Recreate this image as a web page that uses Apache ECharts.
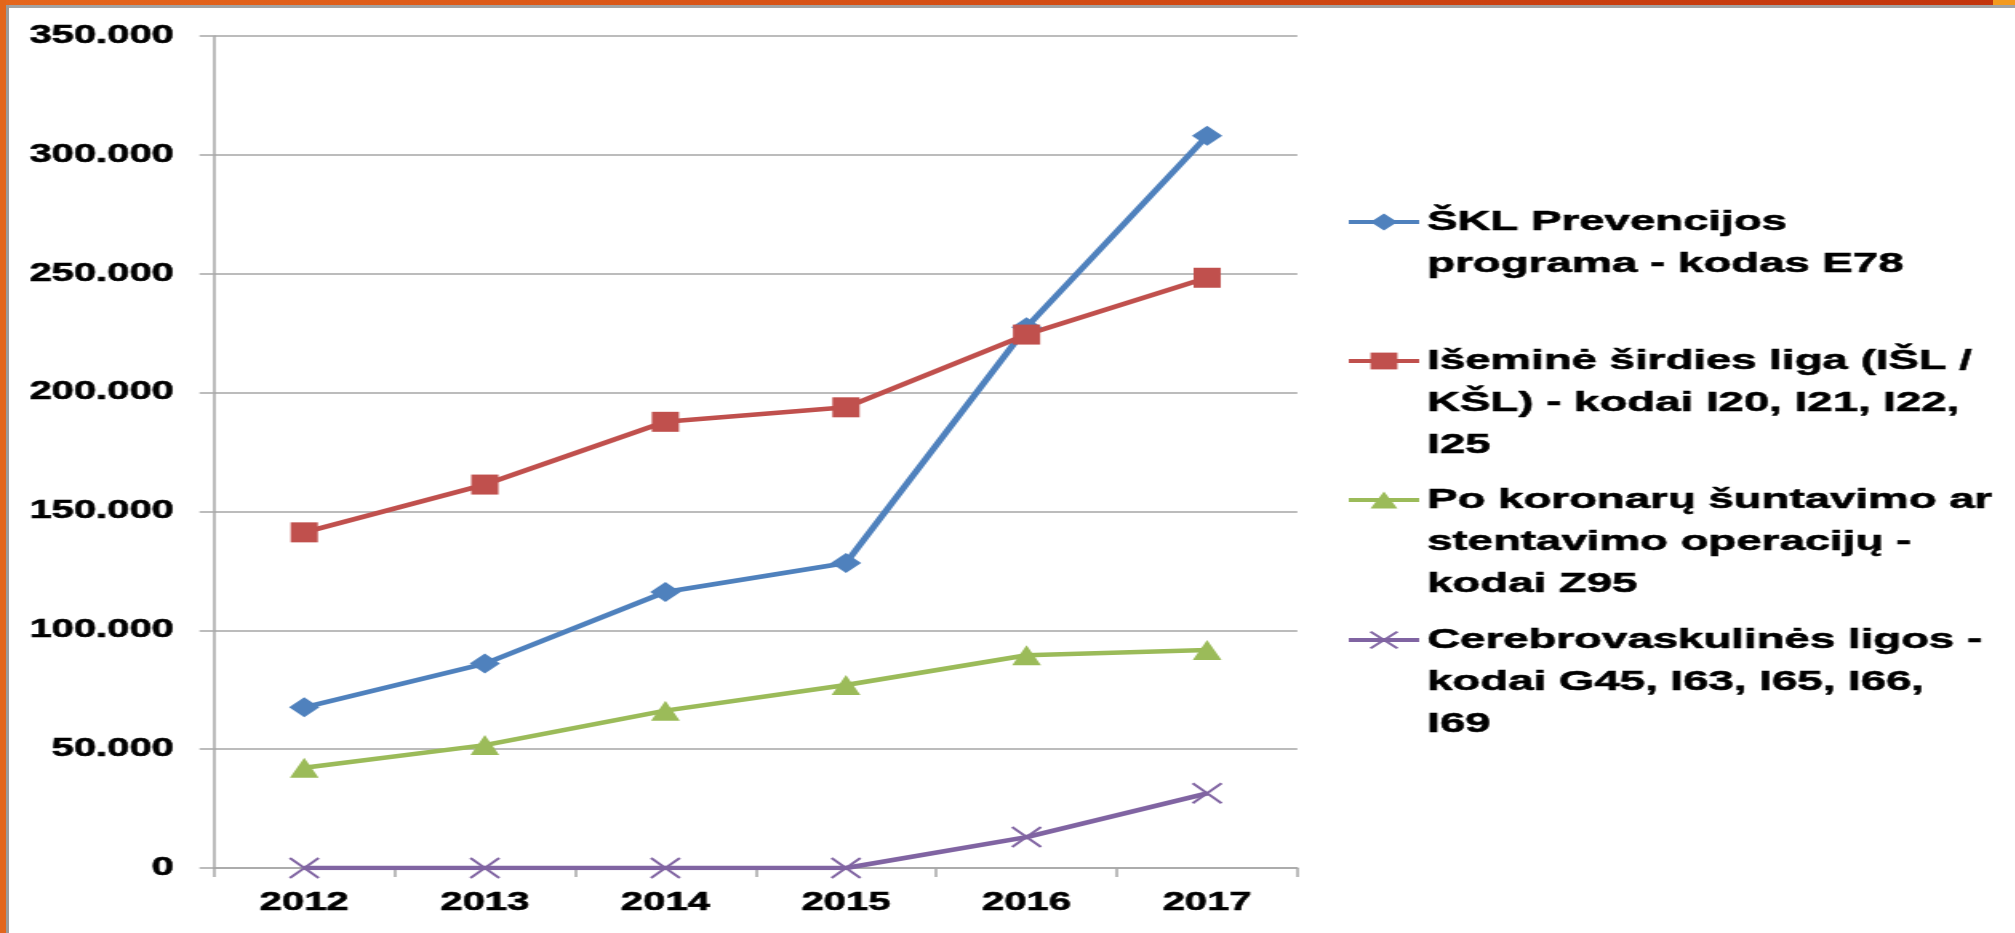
<!DOCTYPE html>
<html>
<head>
<meta charset="utf-8">
<script src="https://cdn.jsdelivr.net/npm/echarts@6/dist/echarts.min.js"></script>
<style>
	html, body { margin: 0; padding: 0; background: #fff; overflow: hidden; }
	#wrap { position: relative; width: 2015px; height: 933px; overflow: hidden; }
	/* the picture is stretched sideways, so the chart is drawn narrow and widened */
	#chart { position: absolute; left: 0; top: 0; width: 1259.375px; height: 933px;
		transform: scaleX(1.6); transform-origin: 0 0; }
	.bar { position: absolute; }
</style>
</head>
<body>
<div id="wrap">
	<div id="chart"></div>
	<div class="bar" style="left:0;top:0;width:2015px;height:5px;background:linear-gradient(to right,#e5661c,#c2340c);"></div>
	<div class="bar" style="left:1993px;top:0;width:22px;height:5px;background:#f39a1f;"></div>
	<div class="bar" style="left:6px;top:5px;width:2009px;height:3px;background:#a3a3a3;"></div>
	<div class="bar" style="left:0;top:0;width:6px;height:933px;background:#e2661c;"></div>
	<div class="bar" style="left:6px;top:5px;width:3px;height:928px;background:#9b9b9b;"></div>
</div>
<script>
	'use strict';
	var years = ['2012', '2013', '2014', '2015', '2016', '2017'];
	var seriesNames = [
		'ŠKL Prevencijos\nprograma - kodas E78',
		'Išeminė širdies liga (IŠL /\nKŠL) - kodai I20, I21, I22,\nI25',
		'Po koronarų šuntavimo ar\nstentavimo operacijų -\nkodai Z95',
		'Cerebrovaskulinės ligos -\nkodai G45, I63, I65, I66,\nI69'
	];
	var sklValues = [67600, 86000, 116100, 128300, 227500, 308000];
	var islValues = [141200, 161300, 187700, 193800, 224400, 248300];
	var z95Values = [42200, 51700, 66200, 77000, 89500, 91700];
	var cerebroValues = [0, 0, 0, 0, 13000, 31400];
	var yTicks = [0, 50000, 100000, 150000, 200000, 250000, 300000, 350000];

	var colors = ['#4f81bd', '#c0504d', '#9bbb59', '#8064a2'];
	var font = 'Liberation Sans';
	var gray = '#a6a6a6';

	function fmt(v) {
		return String(v).replace(/\B(?=(\d{3})+(?!\d))/g, '.');
	}

	// one legend per item; blank lines in front keep the icon level with the first text line
	var lineH = 42;
	var iconCenters = [222, 361, 500, 640];
	var legends = seriesNames.map(function (name, i) {
		var lines = name.split('\n').length;
		var pad = new Array(lines).join('\n');
		return {
			orient: 'vertical',
			left: 841,
			top: iconCenters[i] - (2 * lines - 1) * lineH / 2,
			padding: 0,
			itemWidth: 44,
			itemHeight: 21,
			selectedMode: false,
			lineStyle: { width: 4 },
			formatter: function (n) { return pad + n; },
			textStyle: {
				fontFamily: font,
				fontWeight: 'bold',
				fontSize: 28.5,
				lineHeight: lineH,
				color: '#000',
				textBorderColor: '#000',
				textBorderWidth: 0.6
			},
			data: [name]
		};
	});

	var chart = echarts.init(document.getElementById('chart'));
	chart.setOption({
		animation: false,
		color: colors,
		legend: legends,
		grid: {
			left: 133.75,
			right: 448.1,
			top: 36,
			bottom: 65
		},
		xAxis: {
			type: 'category',
			data: years,
			boundaryGap: true,
			axisLine: { lineStyle: { color: gray, width: 1.5 } },
			axisTick: { show: true, alignWithLabel: false, length: 9, lineStyle: { color: gray, width: 1.5 } },
			axisLabel: {
				margin: 23,
				fontFamily: font,
				fontWeight: 'bold',
				fontSize: 25,
				color: '#000',
				textBorderColor: '#000',
				textBorderWidth: 0.6
			}
		},
		yAxis: {
			type: 'value',
			min: yTicks[0],
			max: yTicks[yTicks.length - 1],
			interval: yTicks[1] - yTicks[0],
			axisLine: { show: true, lineStyle: { color: gray, width: 1.5 } },
			axisTick: { show: true, length: 9, lineStyle: { color: gray, width: 1.5 } },
			splitLine: { lineStyle: { color: gray, width: 1.5 } },
			axisLabel: {
				margin: 25,
				fontFamily: font,
				fontWeight: 'bold',
				fontSize: 25,
				color: '#000',
				textBorderColor: '#000',
				textBorderWidth: 0.6,
				formatter: fmt
			}
		},
		series: [
			{
				name: seriesNames[0],
				type: 'line',
				data: sklValues,
				symbol: 'diamond',
				symbolSize: [19, 20],
				lineStyle: { width: 4.5 }
			},
			{
				name: seriesNames[1],
				type: 'line',
				data: islValues,
				symbol: 'rect',
				symbolSize: [17, 20],
				lineStyle: { width: 4.5 }
			},
			{
				name: seriesNames[2],
				type: 'line',
				data: z95Values,
				symbol: 'triangle',
				symbolSize: [18, 20],
				lineStyle: { width: 4.5 }
			},
			{
				name: seriesNames[3],
				type: 'line',
				data: cerebroValues,
				symbol: 'path://M0,0L10,10M10,0L0,10',
				symbolSize: [18, 20],
				itemStyle: { color: colors[3], borderColor: colors[3], borderWidth: 2 },
				lineStyle: { width: 4.5 }
			}
		]
	});
</script>
</body>
</html>
